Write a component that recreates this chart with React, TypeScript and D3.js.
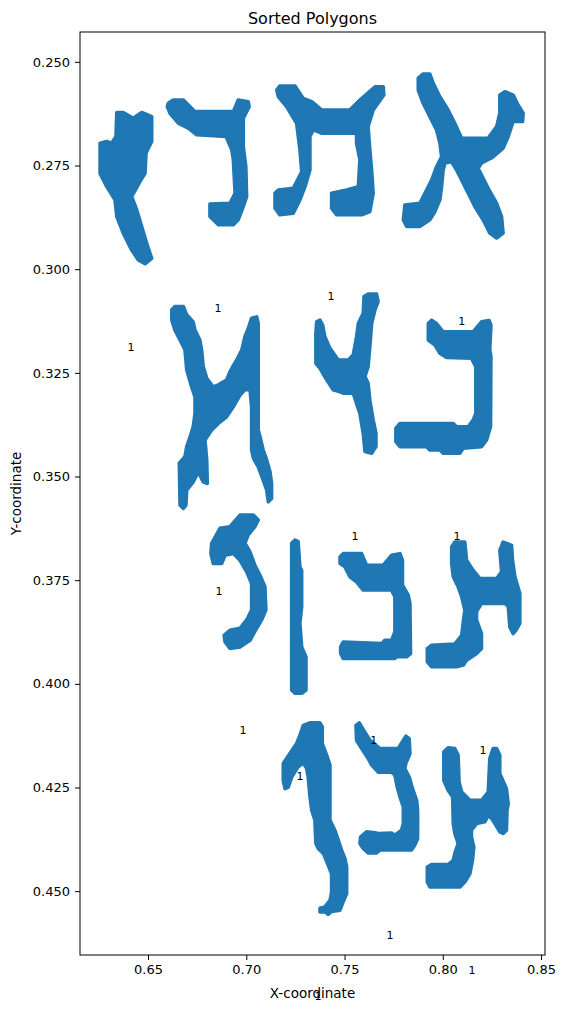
import React, { useEffect, useRef } from 'react';
import * as d3 from 'd3';

type Pt = [number, number];

// Polygon outlines, in data units (x, y)
const letterA: Pt[] = [[0.6341,0.2622],[0.6374,0.2622],[0.6425,0.2636],[0.6468,0.2622],[0.6519,0.2632],[0.6519,0.2692],[0.6490,0.2720],[0.6485,0.2769],[0.6459,0.2789],[0.6417,0.2825],[0.6443,0.2857],[0.6468,0.2897],[0.6493,0.2937],[0.6519,0.2974],[0.6485,0.2987],[0.6451,0.2978],[0.6417,0.2954],[0.6374,0.2913],[0.6341,0.2873],[0.6332,0.2833],[0.6290,0.2801],[0.6256,0.2769],[0.6256,0.2696],[0.6290,0.2692],[0.6315,0.2696],[0.6337,0.2680]];
const letterB: Pt[] = [[0.6603,0.2600],[0.6629,0.2592],[0.6680,0.2592],[0.6739,0.2620],[0.6934,0.2620],[0.6959,0.2592],[0.7010,0.2596],[0.7015,0.2608],[0.6985,0.2636],[0.6985,0.2704],[0.6998,0.2753],[0.7002,0.2825],[0.6985,0.2849],[0.6959,0.2881],[0.6934,0.2893],[0.6858,0.2893],[0.6815,0.2873],[0.6815,0.2843],[0.6917,0.2841],[0.6943,0.2817],[0.6934,0.2736],[0.6926,0.2712],[0.6897,0.2680],[0.6748,0.2676],[0.6705,0.2660],[0.6654,0.2648],[0.6612,0.2624],[0.6598,0.2608]];
const letterC: Pt[] = [[0.7155,0.2568],[0.7171,0.2558],[0.7248,0.2558],[0.7290,0.2588],[0.7333,0.2596],[0.7383,0.2616],[0.7527,0.2616],[0.7578,0.2592],[0.7655,0.2560],[0.7697,0.2560],[0.7700,0.2580],[0.7646,0.2616],[0.7620,0.2656],[0.7629,0.2712],[0.7638,0.2761],[0.7646,0.2817],[0.7629,0.2861],[0.7587,0.2869],[0.7460,0.2869],[0.7434,0.2853],[0.7434,0.2817],[0.7511,0.2809],[0.7570,0.2801],[0.7578,0.2736],[0.7561,0.2696],[0.7561,0.2672],[0.7383,0.2672],[0.7341,0.2664],[0.7324,0.2680],[0.7324,0.2761],[0.7299,0.2801],[0.7273,0.2833],[0.7239,0.2865],[0.7171,0.2869],[0.7146,0.2853],[0.7146,0.2817],[0.7163,0.2809],[0.7239,0.2805],[0.7282,0.2765],[0.7273,0.2712],[0.7256,0.2648],[0.7205,0.2608],[0.7163,0.2584]];
const letterD: Pt[] = [[0.7875,0.2539],[0.7900,0.2529],[0.7934,0.2529],[0.7951,0.2551],[0.7985,0.2584],[0.8027,0.2616],[0.8061,0.2648],[0.8096,0.2684],[0.8231,0.2684],[0.8274,0.2656],[0.8290,0.2624],[0.8290,0.2580],[0.8316,0.2572],[0.8358,0.2580],[0.8383,0.2604],[0.8409,0.2624],[0.8406,0.2644],[0.8358,0.2644],[0.8333,0.2680],[0.8307,0.2708],[0.8248,0.2732],[0.8197,0.2744],[0.8180,0.2757],[0.8197,0.2773],[0.8231,0.2805],[0.8274,0.2841],[0.8299,0.2873],[0.8307,0.2913],[0.8274,0.2925],[0.8239,0.2913],[0.8205,0.2881],[0.8163,0.2849],[0.8121,0.2809],[0.8070,0.2761],[0.8045,0.2741],[0.8011,0.2744],[0.8002,0.2761],[0.7994,0.2801],[0.7985,0.2833],[0.7960,0.2861],[0.7934,0.2881],[0.7883,0.2897],[0.7816,0.2897],[0.7799,0.2881],[0.7807,0.2845],[0.7883,0.2841],[0.7909,0.2817],[0.7943,0.2785],[0.7968,0.2753],[0.7994,0.2729],[0.7985,0.2696],[0.7968,0.2664],[0.7934,0.2632],[0.7900,0.2600],[0.7875,0.2568]];
const letterE: Pt[] = [[0.6621,0.3098],[0.6637,0.3090],[0.6680,0.3090],[0.6697,0.3110],[0.6730,0.3127],[0.6739,0.3147],[0.6764,0.3171],[0.6773,0.3195],[0.6781,0.3235],[0.6799,0.3263],[0.6832,0.3284],[0.6858,0.3279],[0.6900,0.3267],[0.6917,0.3247],[0.6951,0.3219],[0.6977,0.3195],[0.6993,0.3163],[0.7010,0.3143],[0.7027,0.3118],[0.7053,0.3115],[0.7061,0.3131],[0.7061,0.3388],[0.7070,0.3404],[0.7086,0.3436],[0.7104,0.3460],[0.7121,0.3489],[0.7129,0.3517],[0.7129,0.3553],[0.7112,0.3561],[0.7104,0.3533],[0.7086,0.3509],[0.7061,0.3477],[0.7036,0.3456],[0.7027,0.3436],[0.7027,0.3332],[0.7019,0.3291],[0.6993,0.3291],[0.6968,0.3304],[0.6934,0.3332],[0.6900,0.3356],[0.6858,0.3372],[0.6824,0.3388],[0.6790,0.3412],[0.6799,0.3460],[0.6802,0.3517],[0.6781,0.3513],[0.6756,0.3489],[0.6730,0.3513],[0.6697,0.3533],[0.6693,0.3569],[0.6680,0.3577],[0.6663,0.3569],[0.6659,0.3468],[0.6688,0.3452],[0.6697,0.3428],[0.6714,0.3404],[0.6730,0.3380],[0.6739,0.3348],[0.6739,0.3308],[0.6722,0.3284],[0.6697,0.3243],[0.6688,0.3195],[0.6663,0.3171],[0.6637,0.3147],[0.6621,0.3123]];
const letterF: Pt[] = [[0.7358,0.3127],[0.7375,0.3123],[0.7389,0.3135],[0.7400,0.3163],[0.7426,0.3191],[0.7468,0.3219],[0.7519,0.3219],[0.7544,0.3207],[0.7561,0.3163],[0.7570,0.3131],[0.7595,0.3106],[0.7599,0.3066],[0.7620,0.3060],[0.7663,0.3060],[0.7671,0.3078],[0.7655,0.3098],[0.7638,0.3131],[0.7629,0.3187],[0.7620,0.3235],[0.7604,0.3259],[0.7620,0.3275],[0.7629,0.3316],[0.7646,0.3364],[0.7660,0.3396],[0.7660,0.3428],[0.7638,0.3444],[0.7604,0.3440],[0.7595,0.3396],[0.7578,0.3348],[0.7561,0.3324],[0.7544,0.3299],[0.7493,0.3299],[0.7477,0.3296],[0.7442,0.3291],[0.7409,0.3267],[0.7375,0.3239],[0.7354,0.3227],[0.7354,0.3155]];
const letterG: Pt[] = [[0.7926,0.3131],[0.7943,0.3123],[0.7968,0.3131],[0.8002,0.3151],[0.8154,0.3151],[0.8197,0.3127],[0.8236,0.3124],[0.8245,0.3135],[0.8239,0.3195],[0.8245,0.3211],[0.8243,0.3380],[0.8223,0.3412],[0.8197,0.3428],[0.8104,0.3432],[0.8087,0.3444],[0.8002,0.3444],[0.7985,0.3436],[0.7934,0.3436],[0.7917,0.3428],[0.7782,0.3428],[0.7761,0.3416],[0.7761,0.3384],[0.7782,0.3372],[0.8053,0.3372],[0.8070,0.3380],[0.8129,0.3380],[0.8154,0.3364],[0.8168,0.3348],[0.8168,0.3235],[0.8146,0.3215],[0.8019,0.3213],[0.7985,0.3203],[0.7960,0.3183],[0.7926,0.3171]];
const letterH: Pt[] = [[0.6824,0.3661],[0.6866,0.3625],[0.6917,0.3621],[0.6968,0.3593],[0.7036,0.3593],[0.7061,0.3605],[0.7044,0.3621],[0.7010,0.3641],[0.6993,0.3661],[0.7019,0.3682],[0.7044,0.3714],[0.7070,0.3738],[0.7095,0.3766],[0.7100,0.3822],[0.7078,0.3846],[0.7053,0.3866],[0.7019,0.3895],[0.6968,0.3911],[0.6917,0.3915],[0.6892,0.3899],[0.6887,0.3883],[0.6917,0.3871],[0.6968,0.3866],[0.7002,0.3846],[0.7027,0.3822],[0.7027,0.3758],[0.7002,0.3730],[0.6968,0.3702],[0.6934,0.3686],[0.6892,0.3690],[0.6875,0.3710],[0.6832,0.3710],[0.6820,0.3686]];
const letterI: Pt[] = [[0.7231,0.3661],[0.7248,0.3653],[0.7264,0.3657],[0.7273,0.3718],[0.7282,0.3726],[0.7282,0.3814],[0.7273,0.3854],[0.7282,0.3911],[0.7304,0.3935],[0.7304,0.4015],[0.7282,0.4023],[0.7248,0.4023],[0.7231,0.4015]];
const letterJ: Pt[] = [[0.7477,0.3694],[0.7493,0.3686],[0.7587,0.3686],[0.7612,0.3714],[0.7697,0.3714],[0.7739,0.3690],[0.7782,0.3686],[0.7795,0.3702],[0.7795,0.3762],[0.7824,0.3786],[0.7833,0.3806],[0.7836,0.3927],[0.7816,0.3935],[0.7765,0.3935],[0.7756,0.3939],[0.7493,0.3939],[0.7480,0.3927],[0.7480,0.3911],[0.7493,0.3899],[0.7689,0.3903],[0.7705,0.3895],[0.7739,0.3895],[0.7756,0.3875],[0.7756,0.3790],[0.7739,0.3774],[0.7595,0.3774],[0.7561,0.3754],[0.7527,0.3742],[0.7502,0.3718],[0.7477,0.3710]];
const letterK: Pt[] = [[0.8045,0.3670],[0.8061,0.3658],[0.8112,0.3658],[0.8121,0.3702],[0.8154,0.3726],[0.8189,0.3746],[0.8274,0.3746],[0.8299,0.3730],[0.8290,0.3678],[0.8307,0.3658],[0.8350,0.3666],[0.8355,0.3702],[0.8367,0.3742],[0.8392,0.3782],[0.8392,0.3854],[0.8372,0.3871],[0.8358,0.3879],[0.8341,0.3863],[0.8333,0.3814],[0.8316,0.3806],[0.8197,0.3806],[0.8172,0.3826],[0.8172,0.3846],[0.8197,0.3879],[0.8197,0.3915],[0.8172,0.3927],[0.8121,0.3943],[0.8104,0.3955],[0.8070,0.3959],[0.7943,0.3959],[0.7921,0.3947],[0.7921,0.3915],[0.7943,0.3907],[0.8061,0.3904],[0.8096,0.3883],[0.8104,0.3851],[0.8112,0.3822],[0.8096,0.3790],[0.8078,0.3766],[0.8053,0.3742],[0.8045,0.3710]];
const letterL: Pt[] = [[0.7188,0.4192],[0.7239,0.4156],[0.7256,0.4144],[0.7273,0.4124],[0.7290,0.4100],[0.7324,0.4094],[0.7375,0.4094],[0.7387,0.4104],[0.7387,0.4144],[0.7409,0.4172],[0.7426,0.4196],[0.7426,0.4329],[0.7451,0.4353],[0.7468,0.4377],[0.7485,0.4401],[0.7502,0.4421],[0.7511,0.4442],[0.7511,0.4506],[0.7493,0.4526],[0.7477,0.4546],[0.7434,0.4549],[0.7417,0.4556],[0.7400,0.4550],[0.7375,0.4550],[0.7375,0.4541],[0.7400,0.4538],[0.7426,0.4522],[0.7434,0.4502],[0.7434,0.4458],[0.7417,0.4438],[0.7392,0.4409],[0.7366,0.4397],[0.7354,0.4385],[0.7349,0.4329],[0.7333,0.4305],[0.7324,0.4273],[0.7315,0.4225],[0.7307,0.4204],[0.7290,0.4191],[0.7264,0.4200],[0.7231,0.4225],[0.7214,0.4249],[0.7197,0.4253],[0.7188,0.4233]];
const letterM: Pt[] = [[0.7558,0.4100],[0.7575,0.4094],[0.7587,0.4104],[0.7629,0.4136],[0.7680,0.4156],[0.7773,0.4156],[0.7812,0.4126],[0.7829,0.4132],[0.7833,0.4168],[0.7812,0.4192],[0.7807,0.4204],[0.7829,0.4225],[0.7849,0.4257],[0.7867,0.4281],[0.7872,0.4305],[0.7872,0.4373],[0.7858,0.4389],[0.7841,0.4401],[0.7680,0.4401],[0.7663,0.4408],[0.7620,0.4408],[0.7595,0.4397],[0.7578,0.4385],[0.7582,0.4369],[0.7612,0.4357],[0.7655,0.4359],[0.7671,0.4361],[0.7739,0.4360],[0.7756,0.4365],[0.7790,0.4353],[0.7799,0.4337],[0.7799,0.4297],[0.7782,0.4273],[0.7768,0.4249],[0.7756,0.4220],[0.7739,0.4213],[0.7671,0.4213],[0.7638,0.4196],[0.7620,0.4180],[0.7587,0.4156],[0.7561,0.4136]];
const letterN: Pt[] = [[0.8005,0.4164],[0.8027,0.4154],[0.8061,0.4156],[0.8078,0.4172],[0.8083,0.4237],[0.8096,0.4261],[0.8138,0.4281],[0.8197,0.4281],[0.8231,0.4261],[0.8239,0.4180],[0.8256,0.4156],[0.8274,0.4156],[0.8290,0.4172],[0.8290,0.4216],[0.8324,0.4253],[0.8333,0.4289],[0.8327,0.4305],[0.8324,0.4353],[0.8307,0.4361],[0.8290,0.4357],[0.8265,0.4337],[0.8248,0.4325],[0.8231,0.4317],[0.8214,0.4333],[0.8172,0.4337],[0.8146,0.4353],[0.8146,0.4369],[0.8158,0.4394],[0.8151,0.4426],[0.8138,0.4458],[0.8112,0.4478],[0.8087,0.4490],[0.7934,0.4490],[0.7921,0.4478],[0.7921,0.4442],[0.7943,0.4436],[0.8027,0.4436],[0.8053,0.4426],[0.8061,0.4409],[0.8078,0.4385],[0.8061,0.4361],[0.8053,0.4337],[0.8050,0.4273],[0.8027,0.4257],[0.8005,0.4233]];

const polygons: Pt[][] = [letterA, letterB, letterC, letterD, letterE, letterF, letterG, letterH, letterI, letterJ, letterK, letterL, letterM, letterN];

// Text annotations ("1") placed in data units
const labelX = [0.6414, 0.6856, 0.7431, 0.8097, 0.7553, 0.8072, 0.6861, 0.6983, 0.7273, 0.7649, 0.8204, 0.7731, 0.8148, 0.7365];
const labelY = [0.3190, 0.3096, 0.3065, 0.3127, 0.3644, 0.3644, 0.3777, 0.4112, 0.4223, 0.4136, 0.4160, 0.4607, 0.4691, 0.4754];
const labelText = ['1', '1', '1', '1', '1', '1', '1', '1', '1', '1', '1', '1', '1', '1'];

const xTicks = [0.65, 0.70, 0.75, 0.80, 0.85];
const yTicks = [0.250, 0.275, 0.300, 0.325, 0.350, 0.375, 0.400, 0.425, 0.450];

const App = () => {
  const svgRef = useRef<SVGSVGElement>(null);

  useEffect(() => {
    const width = 566;
    const height = 1012;
    const margin = { top: 32, right: 21, bottom: 57, left: 80 };
    const innerW = width - margin.left - margin.right;
    const innerH = height - margin.top - margin.bottom;
    const font = 'DejaVu Sans, sans-serif';

    const svg = d3.select(svgRef.current);
    svg.selectAll('*').remove();
    svg.attr('width', width).attr('height', height);

    const x = d3.scaleLinear().domain([0.6154, 0.852]).range([0, innerW]);
    // y is inverted (image coordinates)
    const y = d3.scaleLinear().domain([0.2428, 0.4654]).range([0, innerH]);

    const g = svg.append('g').attr('transform', `translate(${margin.left},${margin.top})`);

    const line = d3.line<Pt>()
      .x((d) => x(d[0]))
      .y((d) => y(d[1]))
      .curve(d3.curveLinearClosed);

    g.selectAll('path.poly')
      .data(polygons)
      .enter()
      .append('path')
      .attr('class', 'poly')
      .attr('d', (d) => line(d))
      .attr('fill', '#1f77b4')
      .attr('stroke', '#1f77b4')
      .attr('stroke-width', 3.5)
      .attr('stroke-linejoin', 'round');

    // annotations
    g.selectAll('text.lbl')
      .data(labelText)
      .enter()
      .append('text')
      .attr('class', 'lbl')
      .attr('x', (d, i) => x(labelX[i]))
      .attr('y', (d, i) => y(labelY[i]))
      .attr('text-anchor', 'middle')
      .attr('dominant-baseline', 'central')
      .style('font-family', font)
      .style('font-size', '11px')
      .text((d) => d);

    // axes
    const xAxis = d3.axisBottom(x).tickValues(xTicks).tickFormat(d3.format('.2f')).tickSize(5).tickPadding(5);
    const yAxis = d3.axisLeft(y).tickValues(yTicks).tickFormat(d3.format('.3f')).tickSize(5).tickPadding(5);

    const gx = g.append('g').attr('transform', `translate(0,${innerH})`).call(xAxis);
    const gy = g.append('g').call(yAxis);
    [gx, gy].forEach((ax) => {
      ax.select('.domain').remove();
      ax.selectAll('line').attr('stroke', '#000').attr('stroke-width', 1);
      ax.selectAll('text').style('font-family', font).style('font-size', '13px').attr('fill', '#000');
    });

    // frame
    g.append('rect')
      .attr('width', innerW)
      .attr('height', innerH)
      .attr('fill', 'none')
      .attr('stroke', '#000')
      .attr('stroke-width', 1);

    svg.append('text')
      .attr('x', margin.left + innerW / 2)
      .attr('y', 24)
      .attr('text-anchor', 'middle')
      .style('font-family', font)
      .style('font-size', '16px')
      .text('Sorted Polygons');

    svg.append('text')
      .attr('x', margin.left + innerW / 2)
      .attr('y', 998)
      .attr('text-anchor', 'middle')
      .style('font-family', font)
      .style('font-size', '13.5px')
      .text('X-coordinate');

    svg.append('text')
      .attr('transform', `translate(21,${margin.top + innerH / 2}) rotate(-90)`)
      .attr('text-anchor', 'middle')
      .style('font-family', font)
      .style('font-size', '13.5px')
      .text('Y-coordinate');
  }, []);

  return (
    <div style={{ position: 'absolute', left: 0, top: 0 }}>
      <svg ref={svgRef}></svg>
    </div>
  );
};

export default App;
